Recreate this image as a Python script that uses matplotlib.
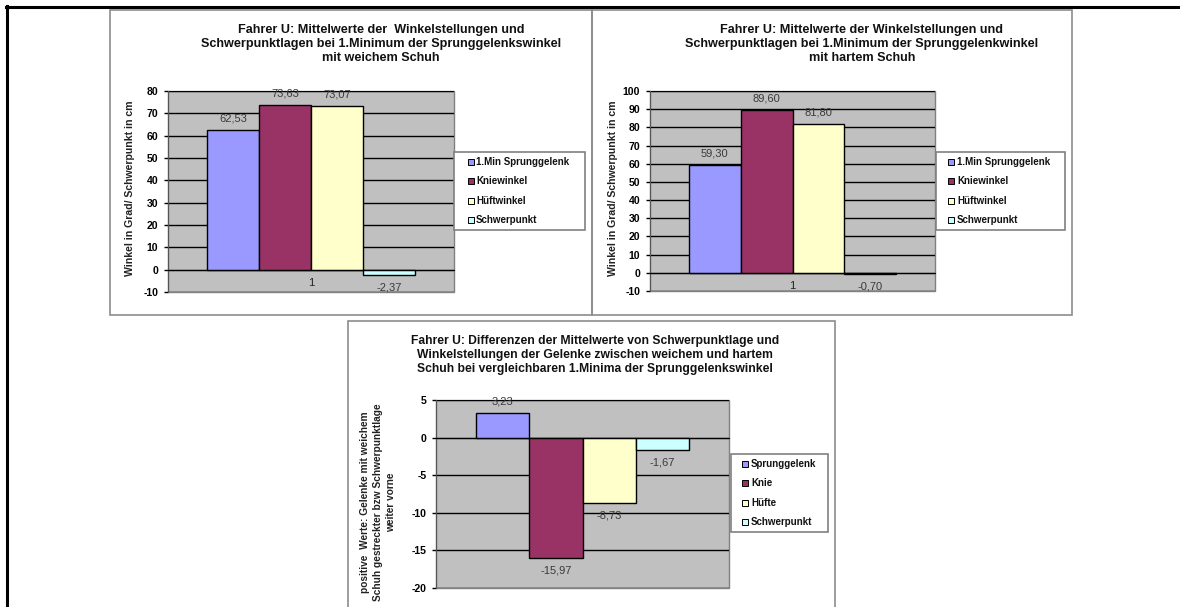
import matplotlib
matplotlib.use("Agg")
import matplotlib.pyplot as plt
from matplotlib.patches import Rectangle

# ---- data -------------------------------------------------------------
series_soft = ["1.Min Sprunggelenk", "Kniewinkel", "Hüftwinkel", "Schwerpunkt"]
values_soft = [62.53, 73.63, 73.07, -2.37]

series_hard = ["1.Min Sprunggelenk", "Kniewinkel", "Hüftwinkel", "Schwerpunkt"]
values_hard = [59.30, 89.60, 81.80, -0.70]

series_diff = ["Sprunggelenk", "Knie", "Hüfte", "Schwerpunkt"]
values_diff = [3.23, -15.97, -8.73, -1.67]

category_labels = ["1"]
bar_colors = ["#9999FF", "#993366", "#FFFFCC", "#CCFFFF"]

title_soft = ("Fahrer U: Mittelwerte der  Winkelstellungen und\n"
              "Schwerpunktlagen bei 1.Minimum der Sprunggelenkswinkel\n"
              "mit weichem Schuh")
title_hard = ("Fahrer U: Mittelwerte der Winkelstellungen und\n"
              "Schwerpunktlagen bei 1.Minimum der Sprunggelenkwinkel\n"
              "mit hartem Schuh")
title_diff = ("Fahrer U: Differenzen der Mittelwerte von Schwerpunktlage und\n"
              "Winkelstellungen der Gelenke zwischen weichem und hartem\n"
              "Schuh bei vergleichbaren 1.Minima der Sprunggelenkswinkel")
ylabel_angles = "Winkel in Grad/ Schwerpunkt in cm"
ylabel_diff = ("positive  Werte: Gelenke mit weichem\n"
               "Schuh gestreckter bzw Schwerpunktlage\n"
               "weiter vorne")

# ---- layout helpers (pixel coordinates, origin top-left) --------------
W, H = 1180, 607
plt.rcParams['font.family'] = ['Liberation Sans', 'DejaVu Sans']
plt.rcParams['axes.unicode_minus'] = False

fig = plt.figure(figsize=(W / 100, H / 100), dpi=100)
fig.patch.set_facecolor("white")


def fx(x):
    return x / W


def fy(y):
    return 1 - y / H


def frame(x0, y0, x1, y1, color="#8c8c8c", lw=1.2, z=0):
    r = Rectangle((fx(x0), fy(y1)), (x1 - x0) / W, (y1 - y0) / H,
                  transform=fig.transFigure, facecolor="none",
                  edgecolor=color, linewidth=lw, zorder=z)
    fig.add_artist(r)


def fmt(v):
    return f"{v:.2f}".replace(".", ",")


def chart(area, ylim, step, names, values, legend_box, legend_rows,
          marker_x, text_x):
    x0, y0, x1, y1 = area
    ax = fig.add_axes([fx(x0), fy(y1), (x1 - x0) / W, (y1 - y0) / H])
    ax.set_facecolor("#C0C0C0")
    ax.patch.set_edgecolor("#808080")
    ax.patch.set_linewidth(1.0)
    ax.set_axisbelow(True)
    ax.spines["top"].set_visible(False)
    ax.spines["right"].set_visible(False)
    ax.spines["left"].set_color("#555555")
    ax.spines["bottom"].set_position(("data", 0))
    ax.spines["bottom"].set_color("black")

    n = len(values)
    width = 1.0 / (n + 1.5)
    for i, (v, c) in enumerate(zip(values, bar_colors)):
        xc = (i - (n - 1) / 2) * width
        ax.bar(xc, v, width=width, color=c, edgecolor="black",
               linewidth=1.0, zorder=2)
        off = 8.3 if v >= 0 else -9.0
        ax.annotate(fmt(v), (xc, v), xytext=(0, off),
                    textcoords="offset points", ha="center", va="center",
                    fontsize=8, color="#3a3a3a", zorder=5,
                    annotation_clip=False)

    ax.set_xlim(-0.5, 0.5)
    ax.set_ylim(*ylim)
    ticks = list(range(ylim[0], ylim[1] + 1, step))
    ax.set_yticks(ticks)
    ax.set_yticklabels([str(t) for t in ticks], fontsize=7.6,
                       fontweight="bold")
    ax.tick_params(axis="y", length=3, width=1, pad=4, color="black")
    ax.set_xticks([0])
    ax.set_xticklabels(category_labels, fontsize=8, color="#222222")
    ax.tick_params(axis="x", length=0, pad=6)
    ax.grid(axis="y", color="black", linewidth=1.0)

    # legend
    lx0, ly0, lx1, ly1 = legend_box
    fig.add_artist(Rectangle((fx(lx0), fy(ly1)), (lx1 - lx0) / W,
                             (ly1 - ly0) / H, transform=fig.transFigure,
                             facecolor="white", edgecolor="#808080",
                             linewidth=1.2, zorder=3))
    s = 5.5
    for name, c, yy in zip(names, bar_colors, legend_rows):
        fig.add_artist(Rectangle((fx(marker_x - s / 2), fy(yy + s / 2)),
                                 s / W, s / H, transform=fig.transFigure,
                                 facecolor=c, edgecolor="black",
                                 linewidth=0.7, zorder=4))
        fig.text(fx(text_x), fy(yy), name, fontsize=7.0, fontweight="bold",
                 ha="left", va="center", color="#111111", zorder=4)
    return ax


# outer page border (top and left)
fig.add_artist(plt.Line2D([fx(6), fx(1180)], [fy(7), fy(7)],
                          transform=fig.transFigure, color="black", lw=2.2))
fig.add_artist(plt.Line2D([fx(7), fx(7)], [fy(6), fy(607)],
                          transform=fig.transFigure, color="black", lw=2.2))

# chart frames
frame(110, 10, 592, 315)
frame(592, 10, 1072, 315)
frame(348, 321, 835, 640)

# soft shoe
chart((168, 91, 454, 292), (-10, 80), 10, series_soft, values_soft,
      (454, 152, 585, 230), [162, 181, 201, 220], 471, 476)
fig.text(fx(381), fy(44), title_soft, ha="center", va="center",
         fontsize=9.1, fontweight="bold", linespacing=1.26, color="#111111")
fig.text(fx(130), fy(188), ylabel_angles, rotation=90, ha="center",
         va="center", fontsize=7.6, fontweight="bold", color="#222222")

# hard shoe
chart((650, 91, 935, 291), (-10, 100), 10, series_hard, values_hard,
      (936, 152, 1065, 230), [162, 181, 201, 220], 951, 957)
fig.text(fx(862), fy(44), title_hard, ha="center", va="center",
         fontsize=9.1, fontweight="bold", linespacing=1.26, color="#111111")
fig.text(fx(613), fy(188), ylabel_angles, rotation=90, ha="center",
         va="center", fontsize=7.6, fontweight="bold", color="#222222")

# differences
chart((436, 400, 729, 588), (-20, 5), 5, series_diff, values_diff,
      (731, 454, 828, 532), [464, 483, 503, 522], 745, 751)
fig.text(fx(595), fy(355), title_diff, ha="center", va="center",
         fontsize=8.7, fontweight="bold", linespacing=1.2, color="#111111")
fig.text(fx(378), fy(502), ylabel_diff, rotation=90, ha="center",
         va="center", fontsize=7.3, fontweight="bold", color="#222222",
         linespacing=1.4, multialignment="center")

fig.savefig("out.png", dpi=100)
